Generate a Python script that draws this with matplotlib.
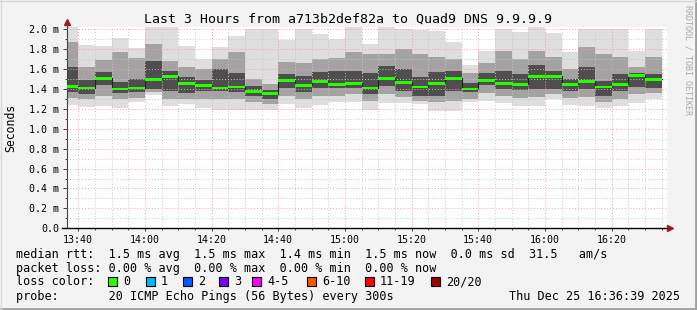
import numpy as np
import matplotlib.pyplot as plt
from matplotlib.lines import Line2D
from matplotlib.patches import Rectangle
from matplotlib.ticker import MultipleLocator, FixedLocator

# --- data (values in ms) ---
slots = ["13:35", "13:40", "13:45", "13:50", "13:55", "14:00", "14:05", "14:10", "14:15",
         "14:20", "14:25", "14:30", "14:35", "14:40", "14:45", "14:50", "14:55", "15:00",
         "15:05", "15:10", "15:15", "15:20", "15:25", "15:30", "15:35", "15:40", "15:45",
         "15:50", "15:55", "16:00", "16:05", "16:10", "16:15", "16:20", "16:25", "16:30"]

median = [1.43, 1.41, 1.51, 1.40, 1.41, 1.50, 1.53, 1.46, 1.44, 1.41, 1.42, 1.37,
          1.35, 1.49, 1.44, 1.48, 1.45, 1.46, 1.41, 1.51, 1.47, 1.42, 1.46, 1.51,
          1.40, 1.49, 1.46, 1.45, 1.53, 1.53, 1.45, 1.48, 1.42, 1.45, 1.54, 1.50]

# outer smoke (fastest / slowest ping)
smoke_lo = [1.24, 1.22, 1.23, 1.21, 1.27, 1.34, 1.23, 1.25, 1.21, 1.19, 1.19, 1.19,
            1.19, 1.25, 1.21, 1.24, 1.27, 1.27, 1.19, 1.26, 1.26, 1.25, 1.18, 1.18,
            1.27, 1.28, 1.26, 1.23, 1.23, 1.30, 1.24, 1.23, 1.21, 1.23, 1.26, 1.30]
smoke_hi = [2.10, 1.84, 1.83, 1.91, 1.81, 2.10, 2.10, 1.83, 1.70, 1.82, 1.93, 2.00,
            2.00, 1.89, 2.00, 1.95, 1.90, 2.10, 1.85, 2.10, 2.00, 1.99, 1.98, 1.87,
            1.64, 1.78, 2.00, 1.97, 2.10, 1.96, 1.77, 2.00, 2.00, 2.00, 1.78, 2.00]

# middle smoke band
mid_lo = [1.31, 1.30, 1.33, 1.30, 1.31, 1.37, 1.30, 1.30, 1.30, 1.30, 1.30, 1.27,
          1.25, 1.33, 1.30, 1.33, 1.33, 1.35, 1.28, 1.35, 1.32, 1.28, 1.27, 1.28,
          1.30, 1.36, 1.33, 1.31, 1.32, 1.35, 1.31, 1.32, 1.27, 1.30, 1.35, 1.36]
mid_hi = [1.87, 1.62, 1.69, 1.77, 1.71, 1.85, 1.68, 1.62, 1.60, 1.70, 1.77, 1.50,
          1.45, 1.67, 1.66, 1.70, 1.71, 1.77, 1.75, 1.75, 1.80, 1.75, 1.72, 1.70,
          1.56, 1.66, 1.78, 1.70, 1.78, 1.72, 1.60, 1.82, 1.75, 1.72, 1.62, 1.72]

# dark core of the smoke
core_lo = [1.37, 1.35, 1.44, 1.36, 1.37, 1.40, 1.38, 1.36, 1.38, 1.38, 1.37, 1.33,
           1.30, 1.41, 1.37, 1.41, 1.41, 1.41, 1.35, 1.43, 1.38, 1.33, 1.33, 1.38,
           1.37, 1.44, 1.40, 1.39, 1.40, 1.40, 1.38, 1.40, 1.33, 1.38, 1.42, 1.41]
core_hi = [1.62, 1.49, 1.57, 1.47, 1.50, 1.68, 1.58, 1.52, 1.49, 1.60, 1.56, 1.43,
           1.39, 1.55, 1.53, 1.57, 1.58, 1.58, 1.56, 1.63, 1.60, 1.52, 1.57, 1.58,
           1.46, 1.56, 1.58, 1.55, 1.64, 1.58, 1.50, 1.62, 1.48, 1.55, 1.56, 1.55]

loss_labels = ["0", "1", "2", "3", "4-5", "6-10", "11-19", "20/20"]
loss_colors = ["#26ff00", "#00b8ff", "#0059ff", "#7e00ff", "#ff00ff", "#ff5500", "#ff0000", "#a00000"]

title = "Last 3 Hours from a713b2def82a to Quad9 DNS 9.9.9.9"
stats = [
    "median rtt:  1.5 ms avg  1.5 ms max  1.4 ms min  1.5 ms now  0.0 ms sd  31.5   am/s",
    "packet loss: 0.00 % avg  0.00 % max  0.00 % min  0.00 % now",
]
probe = "probe:       20 ICMP Echo Pings (56 Bytes) every 300s"
stamp = "Thu Dec 25 16:36:39 2025"

# minutes after 13:00
t = np.array([(int(s[:2]) - 13) * 60 + int(s[3:]) for s in slots], dtype=float)
t_start, t_end = 36 + 39 / 60, 216 + 39 / 60

W, H = 697, 310
mono = "DejaVu Sans Mono"
plt.rcParams["font.family"] = mono

fig = plt.figure(figsize=(W / 100, H / 100), dpi=100, facecolor="#f3f3f3")
ax = fig.add_axes([67 / W, (H - 228.3) / H, 600 / W, 201 / H])
ax.set_facecolor("white")

lo, hi = np.array(smoke_lo), np.array(smoke_hi)
ax.bar(t, hi - lo, bottom=lo, width=5, align="edge", color="#dedede", lw=0, zorder=1)
ax.bar(t, np.array(mid_hi) - mid_lo, bottom=mid_lo, width=5, align="edge", color="#a3a3a3", lw=0, zorder=1)
ax.bar(t, np.array(core_hi) - core_lo, bottom=core_lo, width=5, align="edge", color="#4e4e4e", lw=0, zorder=1)

# median: thin dark step line + green loss-coloured bars
ax.step(np.append(t, t[-1] + 5), np.append(median, median[-1]), where="post",
        color="#202020", lw=0.8, zorder=3)
ax.bar(t, 0.03, bottom=np.array(median) - 0.015, width=5, align="edge",
       color=loss_colors[0], lw=0, zorder=4)

ax.set_xlim(t_start, t_end)
ax.set_ylim(0, 2.02)

ax.xaxis.set_major_locator(FixedLocator([40, 60, 80, 100, 120, 140, 160, 180, 200]))
ax.xaxis.set_minor_locator(MultipleLocator(5))
ax.set_xticklabels([f"{13 + m // 60}:{m % 60:02d}" for m in [40, 60, 80, 100, 120, 140, 160, 180, 200]])
ax.yaxis.set_major_locator(MultipleLocator(0.2))
ax.yaxis.set_minor_locator(MultipleLocator(0.1))
ax.yaxis.set_major_formatter(lambda v, p: "0.0" if abs(v) < 1e-9 else f"{v:.1f} m")

ax.grid(which="major", color="#f2a0a0", linestyle=(0, (1, 2)), lw=0.7)
ax.grid(which="minor", color="#c8c8c8", linestyle=(0, (1, 2)), lw=0.7)
ax.set_axisbelow(False)

ax.tick_params(axis="both", which="both", labelsize=7.2, colors="#404040", width=0.7)
ax.tick_params(axis="y", which="major", length=3, pad=2.5, labelcolor="black")
ax.tick_params(axis="y", which="minor", length=1.5)
ax.tick_params(axis="x", which="major", length=2.5, pad=2.5, labelcolor="black")
ax.tick_params(axis="x", which="minor", length=1.5)

for s in ["top", "right"]:
    ax.spines[s].set_visible(False)
ax.spines["left"].set_color("#404040")
ax.spines["left"].set_linewidth(0.8)
ax.spines["bottom"].set_visible(False)

# axis lines with arrows, rrdtool style
ax.add_line(Line2D([-5 / 600, 1.0 + 1 / 600], [0, 0], transform=ax.transAxes,
                   color="black", lw=1.0, clip_on=False, zorder=5))
ax.add_line(Line2D([0, 0], [1, 1 + 4 / 201], transform=ax.transAxes,
                   color="#404040", lw=0.8, clip_on=False, zorder=5))
ax.plot([0], [1 + 5 / 201], marker="^", ms=4.5, color="#9e1b1b", transform=ax.transAxes, clip_on=False, zorder=6)
ax.plot([1 + 3 / 600], [0], marker=">", ms=4.5, color="#9e1b1b", transform=ax.transAxes, clip_on=False, zorder=6)

fig.text(348 / W, 1 - 19 / H, title, ha="center", va="center", fontsize=9.5)
fig.text(11 / W, 1 - 128 / H, "Seconds", rotation=90, ha="center", va="center", fontsize=8.3)
fig.text(688 / W, 1 - 5 / H, "RRDTOOL / TOBI OETIKER", rotation=270, ha="center", va="top",
         fontsize=6, color="#a8a8a8")

rows_y = [254.3, 268.3, 281.7, 296.7]
for txt, yy in zip(stats, rows_y[:2]):
    fig.text(16 / W, 1 - yy / H, txt, ha="left", va="center", fontsize=8.5)

fig.text(16 / W, 1 - rows_y[2] / H, "loss color:", ha="left", va="center", fontsize=8.5)
box_x = [108, 146, 183, 219, 252, 307, 365, 431]
for bx, lab, col in zip(box_x, loss_labels, loss_colors):
    fig.patches.append(Rectangle((bx / W, 1 - (rows_y[2] + 4.5) / H), 9 / W, 9 / H,
                                 transform=fig.transFigure, facecolor=col, edgecolor="black", lw=0.8))
    fig.text((bx + 15) / W, 1 - rows_y[2] / H, lab, ha="left", va="center", fontsize=8.5)

fig.text(16 / W, 1 - rows_y[3] / H, probe, ha="left", va="center", fontsize=8.5)
fig.text(680 / W, 1 - rows_y[3] / H, stamp, ha="right", va="center", fontsize=8.5)

# canvas frame
fig.add_artist(Line2D([0, 1], [1 / H, 1 / H], transform=fig.transFigure, color="#a0a0a0", lw=2))
fig.add_artist(Line2D([1 - 1 / W, 1 - 1 / W], [0, 1], transform=fig.transFigure, color="#a0a0a0", lw=2))
fig.add_artist(Line2D([0, 1], [1 - 0.5 / H, 1 - 0.5 / H], transform=fig.transFigure, color="#d8d8d8", lw=1))
fig.add_artist(Line2D([0.5 / W, 0.5 / W], [0, 1], transform=fig.transFigure, color="#d8d8d8", lw=1))

fig.savefig("out.png", dpi=100, facecolor=fig.get_facecolor())
